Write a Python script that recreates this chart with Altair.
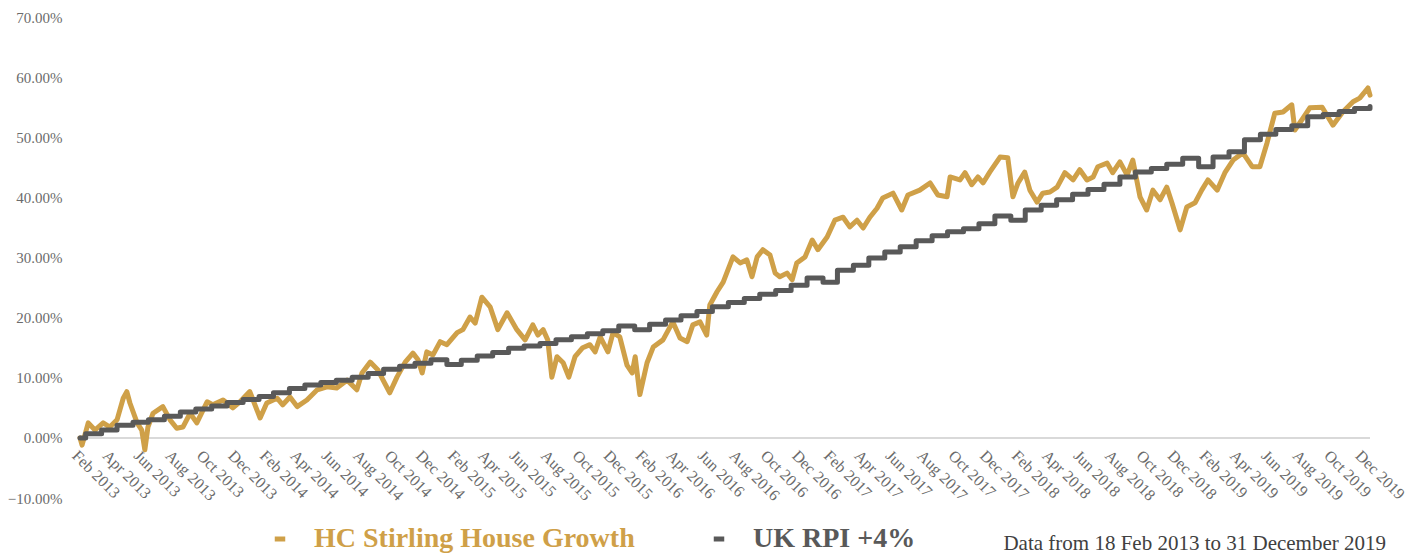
import altair as alt
import pandas as pd

# ---- HC Stirling House Growth (cumulative %) ----
hc_dates = [
    "2013-02-18", "2013-02-22", "2013-03-06", "2013-03-19", "2013-04-04", "2013-04-17",
    "2013-05-01", "2013-05-13", "2013-05-20", "2013-05-26", "2013-06-09", "2013-06-18",
    "2013-06-24", "2013-06-30", "2013-07-10", "2013-07-29", "2013-08-12", "2013-08-25",
    "2013-09-06", "2013-09-20", "2013-10-03", "2013-10-23", "2013-11-03", "2013-11-23",
    "2013-12-12", "2013-12-26", "2014-01-14", "2014-02-03", "2014-02-16", "2014-03-08",
    "2014-03-19", "2014-04-02", "2014-04-16", "2014-05-05", "2014-05-25", "2014-06-13",
    "2014-07-02", "2014-07-22", "2014-08-10", "2014-08-20", "2014-09-05", "2014-09-20",
    "2014-09-30", "2014-10-13", "2014-10-27", "2014-11-12", "2014-11-27", "2014-12-07",
    "2014-12-15", "2014-12-24", "2015-01-05", "2015-01-19", "2015-02-01", "2015-02-21",
    "2015-03-04", "2015-03-18", "2015-03-28", "2015-04-10", "2015-04-26", "2015-05-11",
    "2015-05-29", "2015-06-17", "2015-07-03", "2015-07-18", "2015-07-28", "2015-08-07",
    "2015-08-16", "2015-08-24", "2015-09-03", "2015-09-15", "2015-09-26", "2015-10-08",
    "2015-10-23", "2015-11-06", "2015-11-16", "2015-11-26", "2015-12-11", "2015-12-21",
    "2016-01-03", "2016-01-17", "2016-01-27", "2016-02-02", "2016-02-11", "2016-02-25",
    "2016-03-08", "2016-03-27", "2016-04-15", "2016-04-29", "2016-05-13", "2016-05-24",
    "2016-06-07", "2016-06-20", "2016-06-26", "2016-07-10", "2016-07-22", "2016-08-10",
    "2016-08-24", "2016-09-06", "2016-09-16", "2016-09-26", "2016-10-07", "2016-10-21",
    "2016-10-31", "2016-11-09", "2016-11-23", "2016-12-03", "2016-12-12", "2016-12-28",
    "2017-01-11", "2017-01-22", "2017-02-09", "2017-02-24", "2017-03-12", "2017-03-25",
    "2017-04-08", "2017-04-20", "2017-05-03", "2017-05-17", "2017-05-28", "2017-06-17",
    "2017-07-04", "2017-07-16", "2017-08-08", "2017-08-28", "2017-09-12", "2017-09-30",
    "2017-10-06", "2017-10-25", "2017-11-04", "2017-11-17", "2017-11-29", "2017-12-09",
    "2017-12-22", "2018-01-11", "2018-01-26", "2018-02-05", "2018-02-15", "2018-02-28",
    "2018-03-10", "2018-03-24", "2018-04-04", "2018-04-18", "2018-05-02", "2018-05-17",
    "2018-06-02", "2018-06-15", "2018-06-29", "2018-07-11", "2018-07-20", "2018-08-07",
    "2018-08-18", "2018-09-01", "2018-09-15", "2018-09-26", "2018-10-10", "2018-10-23",
    "2018-11-04", "2018-11-18", "2018-12-01", "2018-12-11", "2018-12-27", "2019-01-09",
    "2019-01-25", "2019-02-07", "2019-02-19", "2019-03-09", "2019-03-24", "2019-04-09",
    "2019-04-28", "2019-05-16", "2019-05-31", "2019-06-14", "2019-06-29", "2019-07-15",
    "2019-08-01", "2019-08-07", "2019-08-23", "2019-09-05", "2019-09-29", "2019-10-20",
    "2019-11-08", "2019-11-28", "2019-12-11", "2019-12-27", "2019-12-31",
]
hc_values = [
    0.0, -1.2, 2.5, 1.3, 2.5, 1.8,
    3.0, 6.6, 7.7, 5.8, 2.5, 1.3,
    -2.0, 1.8, 4.1, 5.2, 3.0, 1.6,
    1.8, 4.1, 2.5, 6.0, 5.5, 6.3,
    5.0, 6.0, 7.7, 3.3, 5.8, 6.6,
    5.5, 6.8, 5.2, 6.3, 8.0, 8.5,
    8.3, 9.6, 8.0, 10.8, 12.6, 11.3,
    9.6, 7.5, 10.1, 12.6, 14.1, 13.0,
    10.8, 14.3, 13.8, 16.0, 15.5, 17.5,
    18.0, 20.1, 19.1, 23.4, 21.8, 18.0,
    20.8, 18.0, 16.3, 18.8, 17.1, 18.0,
    16.3, 10.1, 13.5, 12.5, 10.1, 13.5,
    15.0, 15.5, 14.3, 16.8, 14.3, 17.5,
    16.8, 12.1, 10.8, 13.5, 7.2, 12.5,
    15.1, 16.3, 19.3, 16.6, 16.0, 18.8,
    19.3, 17.1, 22.1, 24.3, 25.9, 30.1,
    29.1, 29.6, 26.8, 30.1, 31.3, 30.4,
    27.4, 26.8, 27.4, 26.3, 29.1, 30.1,
    32.9, 31.3, 33.4, 36.2, 36.7, 35.1,
    36.2, 34.9, 36.7, 38.2, 39.9, 40.7,
    37.9, 40.4, 41.2, 42.4, 40.4, 40.1,
    43.4, 42.9, 44.1, 42.1, 43.4, 42.4,
    44.2, 46.7, 46.6, 40.1, 42.4, 44.2,
    41.2, 39.2, 40.7, 40.9, 41.7, 44.1,
    42.9, 44.6, 42.9, 43.4, 45.1, 45.7,
    44.1, 45.9, 43.7, 46.2, 40.1, 37.9,
    41.2, 39.6, 41.7, 39.1, 34.6, 38.4,
    39.1, 41.2, 42.9, 41.2, 44.1, 46.2,
    47.4, 45.1, 45.1, 49.1, 54.0, 54.2,
    55.4, 51.2, 53.2, 54.9, 55.0, 52.0,
    54.2, 55.9, 56.5, 58.2, 57.0,
]

# ---- UK RPI +4% (monthly steps, cumulative %) ----
rpi_dates = [
    "2013-02-18", "2013-03-01", "2013-04-01", "2013-05-01", "2013-06-01", "2013-07-01",
    "2013-08-01", "2013-09-01", "2013-10-01", "2013-11-01", "2013-12-01", "2014-01-01",
    "2014-02-01", "2014-03-01", "2014-04-01", "2014-05-01", "2014-06-01", "2014-07-01",
    "2014-08-01", "2014-09-01", "2014-10-01", "2014-11-01", "2014-12-01", "2015-01-01",
    "2015-02-01", "2015-03-01", "2015-04-01", "2015-05-01", "2015-06-01", "2015-07-01",
    "2015-08-01", "2015-09-01", "2015-10-01", "2015-11-01", "2015-12-01", "2016-01-01",
    "2016-02-01", "2016-03-01", "2016-04-01", "2016-05-01", "2016-06-01", "2016-07-01",
    "2016-08-01", "2016-09-01", "2016-10-01", "2016-11-01", "2016-12-01", "2017-01-01",
    "2017-02-01", "2017-03-01", "2017-04-01", "2017-05-01", "2017-06-01", "2017-07-01",
    "2017-08-01", "2017-09-01", "2017-10-01", "2017-11-01", "2017-12-01", "2018-01-01",
    "2018-02-01", "2018-03-01", "2018-04-01", "2018-05-01", "2018-06-01", "2018-07-01",
    "2018-08-01", "2018-09-01", "2018-10-01", "2018-11-01", "2018-12-01", "2019-01-01",
    "2019-02-01", "2019-03-01", "2019-04-01", "2019-05-01", "2019-06-01", "2019-07-01",
    "2019-08-01", "2019-09-01", "2019-10-01", "2019-11-01", "2019-12-01", "2019-12-31",
]
rpi_values = [
    0.0, 0.7, 1.3, 2.1, 2.6, 3.0,
    3.6, 4.3, 4.8, 5.3, 5.9, 6.4,
    6.9, 7.5, 8.2, 8.8, 9.2, 9.6,
    10.1, 10.7, 11.4, 11.9, 12.4, 13.0,
    12.2, 12.9, 13.6, 14.2, 14.9, 15.3,
    15.7, 16.3, 16.8, 17.3, 17.8, 18.6,
    18.0, 18.9, 19.6, 20.3, 21.0, 21.8,
    22.5, 23.2, 23.9, 24.5, 25.4, 26.6,
    25.9, 27.9, 28.7, 29.9, 30.9, 31.8,
    32.8, 33.6, 34.3, 34.8, 35.6, 36.9,
    36.2, 37.9, 38.7, 39.6, 40.5, 41.3,
    42.2, 43.4, 44.2, 44.8, 45.5, 46.5,
    45.1, 46.7, 47.6, 49.6, 50.5, 51.3,
    51.9, 53.4, 53.8, 54.3, 54.8, 55.1,
]

series_names = ["HC Stirling House Growth", "UK RPI +4%"]
series_colors = ["#CFA048", "#595959"]
y_ticks = [-10, 0, 10, 20, 30, 40, 50, 60, 70]
note_text = "Data from 18 Feb 2013 to 31 December 2019"

tick_dates = []
for yr in range(2013, 2020):
    for mo in (2, 4, 6, 8, 10, 12):
        tick_dates.append(alt.DateTime(year=yr, month=mo, date=18))

hc_df = pd.DataFrame({"date": hc_dates, "value": hc_values, "series": series_names[0]})
rpi_df = pd.DataFrame({"date": rpi_dates, "value": rpi_values, "series": series_names[1]})

FONT = "Liberation Serif"

x_enc = alt.X(
    "date:T",
    scale=alt.Scale(domain=[alt.DateTime(year=2013, month=2, date=18),
                            alt.DateTime(year=2019, month=12, date=31)]),
    axis=alt.Axis(
        values=tick_dates, format="%b %Y", title=None,
        labelAngle=45, labelAlign="left", labelBaseline="top",
        labelPadding=9, labelOverlap=False, labelBound=False, labelFlush=False,
        domain=False, ticks=False, grid=False, offset=-60,
        labelFont=FONT, labelFontSize=16, labelColor="#6b6b6b",
    ),
)
y_enc = alt.Y(
    "value:Q",
    scale=alt.Scale(domain=[-10, 70], nice=False),
    axis=alt.Axis(
        values=y_ticks, title=None,
        labelExpr="format(datum.value, '.2f') + '%'",
        domain=False, ticks=False, grid=False, labelPadding=18,
        labelFont=FONT, labelFontSize=15, labelColor="#6b6b6b",
    ),
)
color_enc = alt.Color(
    "series:N",
    scale=alt.Scale(domain=series_names, range=series_colors),
    legend=alt.Legend(
        title=None, orient="none", direction="horizontal",
        legendX=186, legendY=508,
        symbolType="stroke", symbolSize=110, symbolStrokeWidth=5,
        labelFont=FONT, labelFontSize=28, labelFontWeight="bold",
        labelColor=alt.ExprRef(expr="datum.label == 'UK RPI +4%' ? '#595959' : '#CFA048'"),
        labelOffset=20, columnPadding=68, labelLimit=600,
    ),
)

zero_rule = alt.Chart(pd.DataFrame({"v": [0]})).mark_rule(
    color="#d9d9d9", strokeWidth=2
).encode(y=alt.Y("v:Q", scale=alt.Scale(domain=[-10, 70], nice=False)))

hc_line = alt.Chart(hc_df).mark_line(
    strokeWidth=5, strokeJoin="round", strokeCap="round"
).encode(x=x_enc, y=y_enc, color=color_enc)

rpi_line = alt.Chart(rpi_df).mark_line(
    strokeWidth=5, interpolate="step-after", strokeJoin="round", strokeCap="round"
).encode(x=x_enc, y=y_enc, color=color_enc)

note = alt.Chart(pd.DataFrame({"note": [note_text]})).mark_text(
    font=FONT, fontSize=21, color="#404040", align="right", baseline="middle"
).encode(text="note:N", x=alt.value(1306), y=alt.value(527))

chart = alt.layer(zero_rule, hc_line, rpi_line, note).properties(
    width=1290, height=481,
    autosize=alt.AutoSizeParams(type="none"),
    padding={"left": 72, "top": 9, "right": 40, "bottom": 59},
).configure_view(stroke=None)

chart.save("out.html", embed_options={"renderer": "svg", "actions": False})
